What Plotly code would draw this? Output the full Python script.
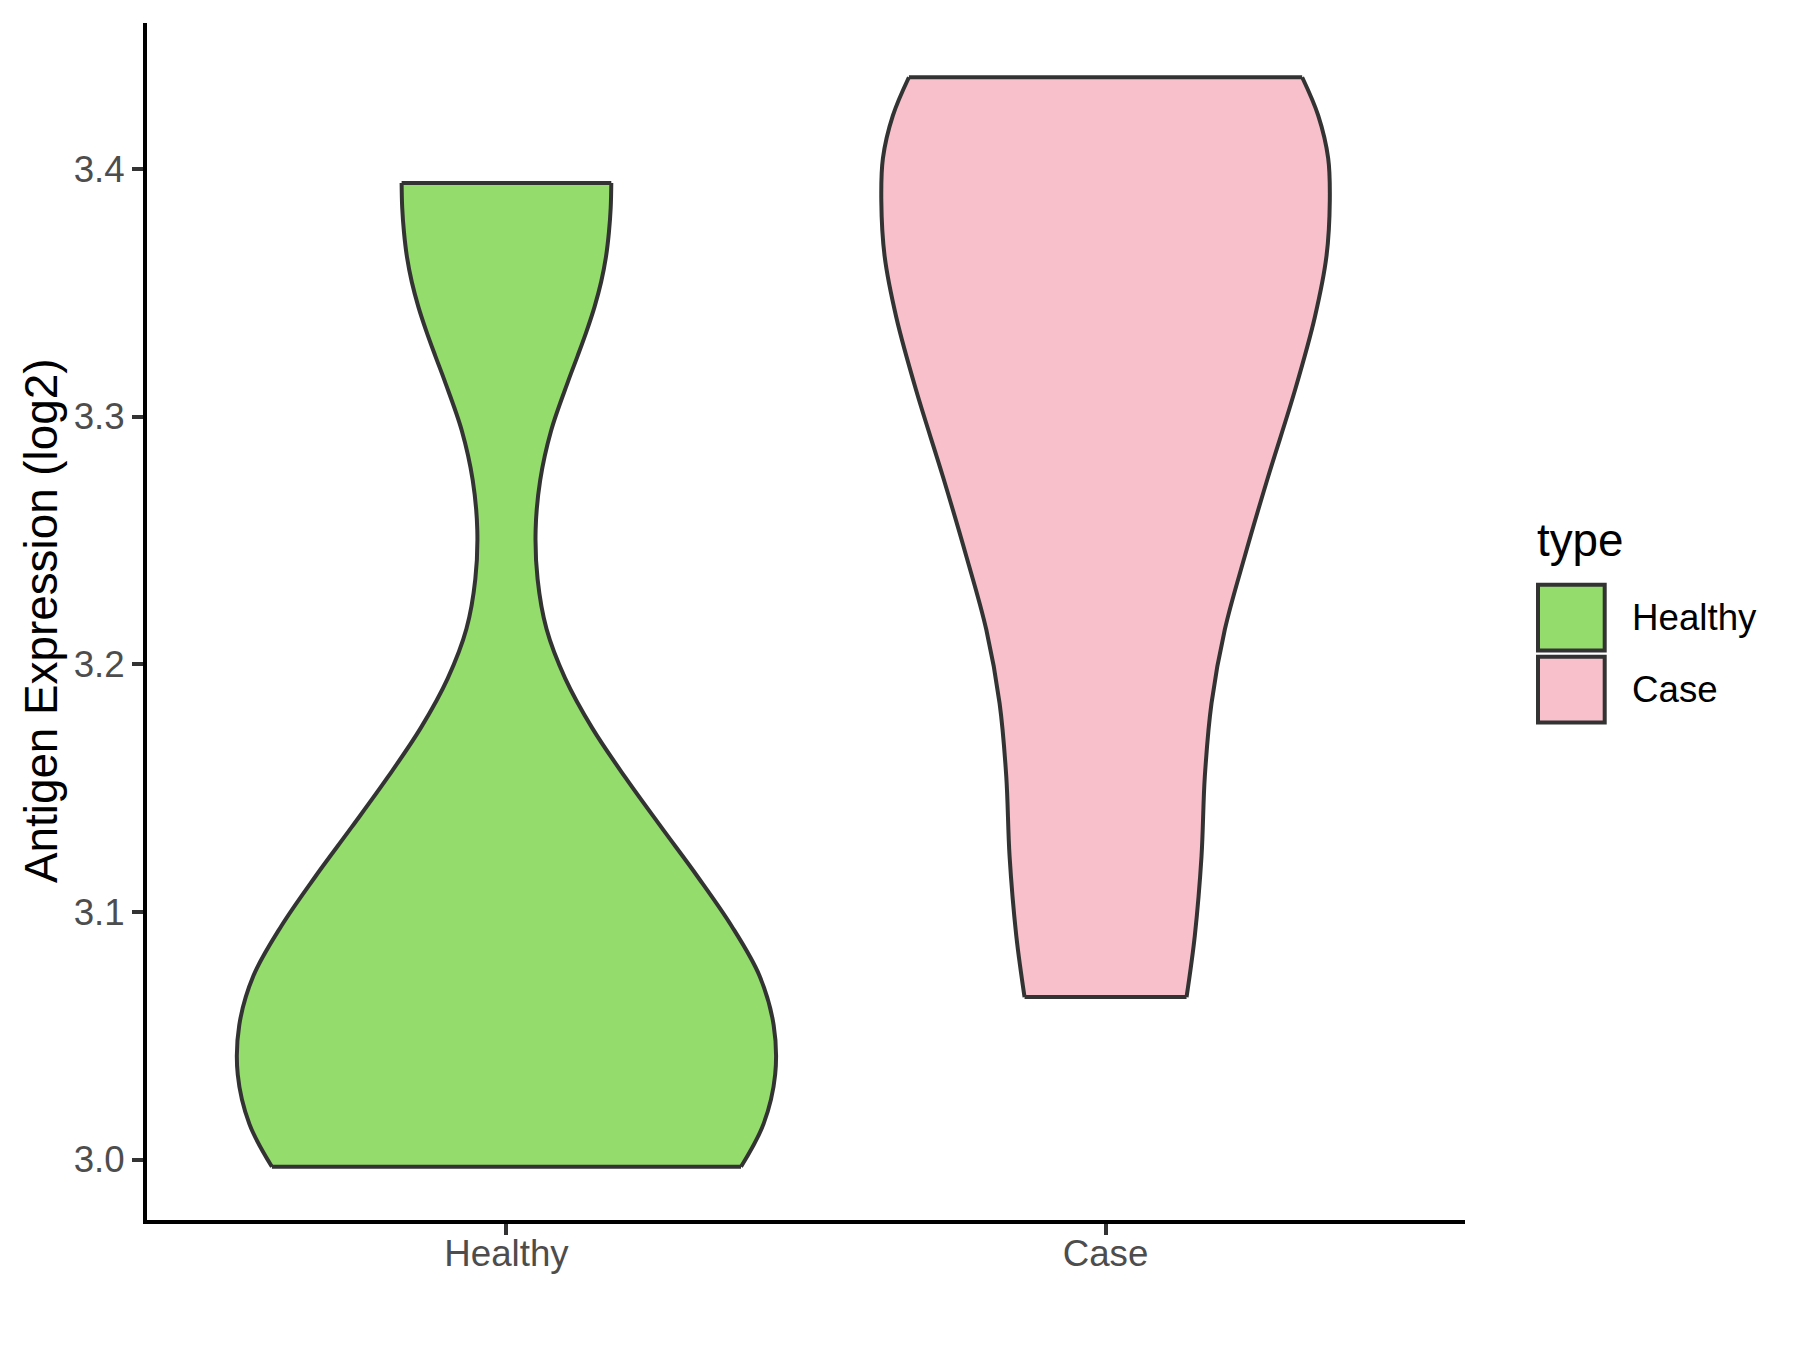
import plotly.graph_objects as go

# ---- data ----
categories = ["Healthy", "Case"]

# density outline of each violin: y values (top -> bottom) and half widths (category units)
healthy_y = [3.3943, 3.3843, 3.3743, 3.3643, 3.3543, 3.3443, 3.3343, 3.3243, 3.3143,
             3.2943, 3.2743, 3.2543, 3.2343, 3.2143, 3.1943, 3.1743, 3.1543, 3.1343,
             3.1143, 3.0943, 3.0743, 3.0543, 3.0343, 3.0143, 2.9971]
healthy_halfwidth = [0.1750, 0.1740, 0.1710, 0.1660, 0.1580, 0.1470, 0.1335, 0.1185, 0.1030,
                     0.0745, 0.0563, 0.0487, 0.0520, 0.0668, 0.0980, 0.1430, 0.1984, 0.2581,
                     0.3189, 0.3758, 0.4222, 0.4460, 0.4485, 0.4290, 0.3915]

case_y = [3.4370, 3.4216, 3.4043, 3.3870, 3.3648, 3.3400, 3.3104, 3.2758, 3.2436,
          3.2140, 3.1843, 3.1546, 3.1225, 3.0904, 3.0656]
case_halfwidth = [0.3282, 0.3549, 0.3716, 0.3743, 0.3688, 0.3492, 0.3159, 0.2715, 0.2324,
                  0.1991, 0.1769, 0.1657, 0.1602, 0.1490, 0.1352]

y_ticks = [3.0, 3.1, 3.2, 3.3, 3.4]
y_tick_labels = ["3.0", "3.1", "3.2", "3.3", "3.4"]

fill_colors = {"Healthy": "#94DC6B", "Case": "#F7C0CB"}
outline = "#333333"
FONT = "Liberation Sans, Arial, sans-serif"

profiles = {"Healthy": (healthy_y, healthy_halfwidth), "Case": (case_y, case_halfwidth)}

SPL = dict(shape="spline", smoothing=1.0)

fig = go.Figure()
for i, cat in enumerate(categories):
    c = i + 1
    ys, ws = profiles[cat]
    left_x = [c - w for w in ws]
    right_x = [c + w for w in ws]
    # fill: left side, then right side filled back to it
    fig.add_trace(go.Scatter(x=left_x, y=ys, mode="lines",
                             line=dict(width=0, color=outline, **SPL),
                             showlegend=False, hoverinfo="skip"))
    fig.add_trace(go.Scatter(x=right_x, y=ys, mode="lines", fill="tonextx",
                             fillcolor=fill_colors[cat],
                             line=dict(width=0, color=outline, **SPL),
                             showlegend=False, hoverinfo="skip"))
for i, cat in enumerate(categories):
    c = i + 1
    ys, ws = profiles[cat]
    left_x = [c - w for w in ws]
    right_x = [c + w for w in ws]
    ox = left_x + [None] + right_x + [None] + [left_x[0], right_x[0]] + [None] + [left_x[-1], right_x[-1]]
    oy = list(ys) + [None] + list(ys) + [None] + [ys[0], ys[0]] + [None] + [ys[-1], ys[-1]]
    fig.add_trace(go.Scatter(x=ox, y=oy, mode="lines", connectgaps=False,
                             line=dict(width=4, color=outline, **SPL),
                             name=cat, showlegend=False, hoverinfo="skip"))

# page body adds an 8px offset, so the figure is sized to end at the window edge
OFF = 8
W, H = 1800 - OFF, 1350 - OFF
L, R, T, B = 147 - OFF, 335, 23 - OFF, 130
pw, ph = W - L - R, H - T - B


def px(xp):
    return (xp - OFF - L) / pw


def py(yp):
    return (H - B - (yp - OFF)) / ph


shapes = []
annotations = []
# manual legend (ggplot style)
annotations.append(dict(text="type", x=px(1535), y=py(540), xref="paper", yref="paper",
                        xanchor="left", yanchor="middle", showarrow=False,
                        font=dict(family=FONT, size=45.8, color="black")))
key_tops = [584.7, 656.7]
for cat, top in zip(categories, key_tops):
    shapes.append(dict(type="rect", xref="paper", yref="paper",
                       x0=px(1538), x1=px(1604.7), y0=py(top + 65.8), y1=py(top),
                       fillcolor=fill_colors[cat], line=dict(color=outline, width=4)))
    annotations.append(dict(text=cat, x=px(1630), y=py(top + 33), xref="paper", yref="paper",
                            xanchor="left", yanchor="middle", showarrow=False,
                            font=dict(family=FONT, size=36.7, color="black")))
# y axis title
annotations.append(dict(text="Antigen Expression (log2)", x=px(41), y=py(621), xref="paper",
                        yref="paper", textangle=-90, xanchor="center", yanchor="middle",
                        showarrow=False, font=dict(family=FONT, size=45.8, color="black")))

fig.update_layout(
    width=W, height=H,
    margin=dict(l=L, r=R, t=T, b=B),
    plot_bgcolor="white", paper_bgcolor="white",
    showlegend=False,
    shapes=shapes, annotations=annotations,
    xaxis=dict(range=[0.4, 2.6], tickvals=[1, 2], ticktext=categories,
               showline=True, linecolor="black", linewidth=4,
               ticks="outside", ticklen=11, tickwidth=4, tickcolor=outline,
               tickfont=dict(family=FONT, size=36.7, color="#4D4D4D"),
               ticklabelstandoff=-13,
               showgrid=False, zeroline=False),
    yaxis=dict(range=[2.9756, 3.4589], tickvals=y_ticks, ticktext=y_tick_labels,
               showline=True, linecolor="black", linewidth=4,
               ticks="outside", ticklen=11, tickwidth=4, tickcolor=outline,
               tickfont=dict(family=FONT, size=36.7, color="#4D4D4D"),
               ticklabelstandoff=0,
               showgrid=False, zeroline=False),
)

fig.write_html("out.html")
